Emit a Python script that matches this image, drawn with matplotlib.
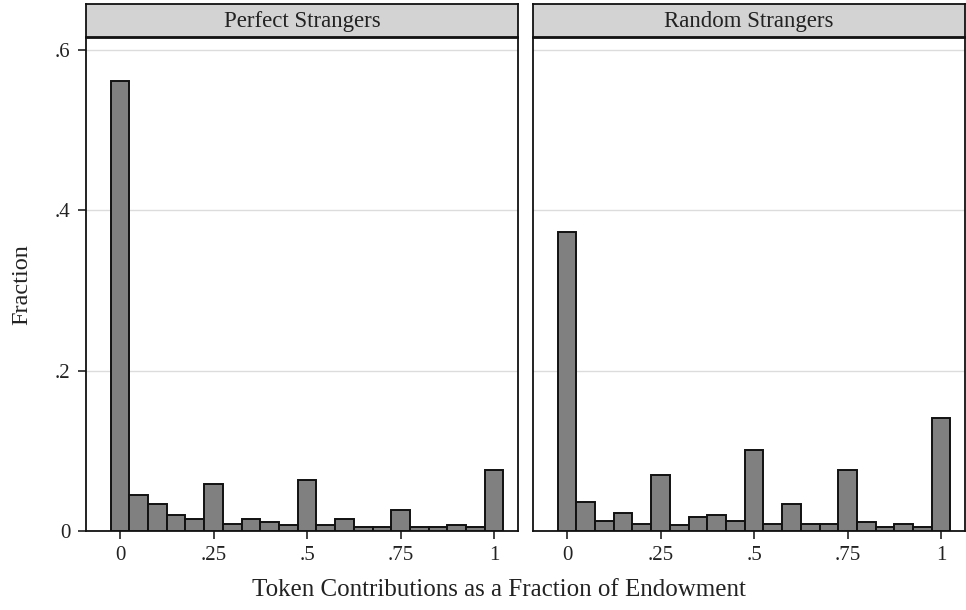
import numpy as np
import matplotlib
matplotlib.use("Agg")
import matplotlib.pyplot as plt

# bin centres are 0, .05, ..., 1
bin_centers = np.arange(21) * 0.05
panels = ["Perfect Strangers", "Random Strangers"]
perfect_frac = [0.561, 0.045, 0.034, 0.020, 0.015, 0.059, 0.009, 0.015, 0.011, 0.007,
                0.063, 0.007, 0.015, 0.005, 0.005, 0.026, 0.005, 0.005, 0.007, 0.005, 0.076]
random_frac = [0.373, 0.036, 0.013, 0.022, 0.009, 0.070, 0.007, 0.018, 0.020, 0.013,
               0.101, 0.009, 0.034, 0.009, 0.009, 0.076, 0.011, 0.005, 0.009, 0.005, 0.141]
x_ticks = [0, 0.25, 0.5, 0.75, 1]
x_labels = ["0", ".25", ".5", ".75", "1"]
y_ticks = [0, 0.2, 0.4, 0.6]
y_labels = ["0", ".2", ".4", ".6"]

plt.rcParams["font.family"] = ["Liberation Serif", "DejaVu Serif"]

fig = plt.figure(figsize=(9.66, 6.1), dpi=100)

W, H = 966, 610
def fig_rect(x0, y0, x1, y1):
    return [x0 / W, 1 - y1 / H, (x1 - x0) / W, (y1 - y0) / H]

lefts = [(86, 518), (533, 965)]

for i, (name, vals) in enumerate(zip(panels, [perfect_frac, random_frac])):
    x0, x1 = lefts[i]
    ax = fig.add_axes(fig_rect(x0, 38, x1, 531))
    ax.bar(bin_centers, vals, width=0.05, color="#808080",
           edgecolor="#111111", linewidth=1.4, zorder=3)
    ax.set_xlim(-0.091, 1.064)
    ax.set_ylim(0, 0.615)
    ax.set_yticks(y_ticks)
    ax.grid(axis="y", color="#dcdcdc", linewidth=1.0, zorder=0)
    ax.set_xticks(x_ticks)
    ax.set_xticklabels(x_labels, fontsize=15, color="#222222")
    ax.tick_params(axis="both", direction="out", length=6, width=1.2, color="#222222", pad=5)
    if i == 0:
        ax.set_yticklabels(y_labels, fontsize=15, color="#222222")
        ax.set_ylabel("Fraction", fontsize=17.5, color="#222222", labelpad=16)
    else:
        ax.tick_params(axis="y", length=0, labelleft=False)
    for sp in ax.spines.values():
        sp.set_color("#111111")
        sp.set_linewidth(1.3)

    strip = fig.add_axes(fig_rect(x0, 4, x1, 37))
    strip.set_facecolor("#d3d3d3")
    strip.set_xticks([])
    strip.set_yticks([])
    for sp in strip.spines.values():
        sp.set_color("#111111")
        sp.set_linewidth(1.3)
    strip.text(0.5, 0.48, name, ha="center", va="center", fontsize=16.5,
               color="#222222", transform=strip.transAxes)

fig.text(499 / W, 1 - 590 / H, "Token Contributions as a Fraction of Endowment",
         ha="center", va="center", fontsize=18, color="#222222")

fig.savefig("out.png", dpi=100)
